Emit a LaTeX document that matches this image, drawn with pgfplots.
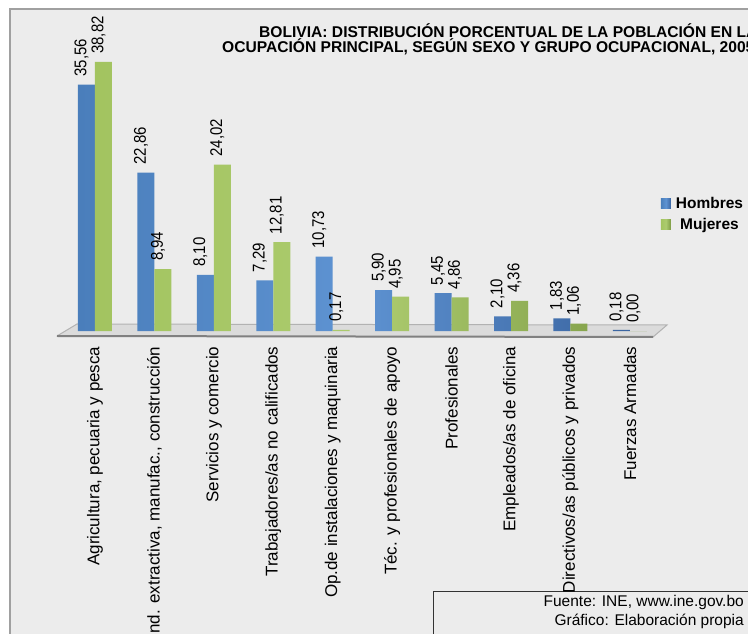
\documentclass[border=0pt]{standalone}
\usepackage{fontspec}
\setmainfont{Liberation Sans}
\newfontfamily\narrowfont[FakeStretch=0.88]{Liberation Sans}
\usepackage{pgfplots}
\pgfplotsset{compat=1.18}
\definecolor{bg}{HTML}{ECECEC}
\definecolor{frame}{HTML}{A0A0A0}
\definecolor{bluel}{HTML}{4A7EBB}
\definecolor{bluem}{HTML}{5E93D2}
\definecolor{bluer}{HTML}{3A64A0}
\definecolor{greenl}{HTML}{A3C460}
\definecolor{greenm}{HTML}{ACCB6E}
\definecolor{greenr}{HTML}{7D9B45}
\begin{document}
\begin{tikzpicture}
\useasboundingbox (0pt,0pt) rectangle (748pt,633pt);
\clip (0pt,0pt) rectangle (748pt,633pt);
\fill[white] (0pt,0pt) rectangle (748pt,633pt);
\filldraw[fill=bg, draw=frame, line width=2pt] (10pt,-20pt) rectangle (780pt,624pt);
% title
\node[anchor=base west, inner sep=0pt, font=\fontsize{15.6}{16}\selectfont\bfseries] at (259pt,595pt) {BOLIVIA: DISTRIBUCIÓN PORCENTUAL DE LA POBLACIÓN EN LA};
\node[anchor=base west, inner sep=0pt, font=\fontsize{15.6}{16}\selectfont\bfseries] at (222pt,580pt) {OCUPACIÓN PRINCIPAL, SEGÚN SEXO Y GRUPO OCUPACIONAL, 2005};
% floor
\fill[black!14] (57pt,297pt) -- (77pt,309pt) -- (667pt,308pt) -- (653pt,296pt) -- cycle;
\draw[black!30, line width=1pt] (57pt,297pt) -- (77pt,309pt) -- (667pt,308pt) -- (653pt,296pt);
\draw[black!50, line width=2pt] (57pt,297pt) -- (653pt,296pt);
% source box
\draw[black!80, line width=0.8pt, fill=bg] (433pt,42pt) rectangle (790pt,-10pt);
\node[anchor=base east, inner sep=0pt, font=\fontsize{15.5}{16}\selectfont] at (744pt,27pt) {Fuente: INE, www.ine.gov.bo};
\node[anchor=base east, inner sep=0pt, font=\fontsize{15.5}{16}\selectfont] at (744pt,8pt) {Gráfico: Elaboración propia};
\begin{axis}[
  at={(50.4pt,302pt)}, anchor=south west,
  scale only axis, width=615.2pt, height=277.2pt,
  xmin=-0.75, xmax=9.6, ymin=0, ymax=40,
  clip=false,
  ybar=0pt, bar width=17pt,
  axis line style={draw=none},
  major tick length=0pt,
  ytick=\empty,
  xtick={0,...,9},
  xticklabels={{Agricultura, pecuaria y pesca}, {Ind. extractiva, manufac., construcción}, Servicios y comercio, Trabajadores/as no calificados, Op.de instalaciones y maquinaria, Téc. y profesionales de apoyo, Profesionales, Empleados/as de oficina, Directivos/as públicos y privados, Fuerzas Armadas},
  xticklabel shift=12pt,
  xticklabel style={rotate=90, anchor=east, font=\fontsize{17}{18}\selectfont},
  nodes near coords={\pgfmathprintnumber[fixed,fixed zerofill,precision=2,use comma,assume math mode=true]{\pgfplotspointmeta}},
  every node near coord/.append style={xshift=-5pt, yshift=7pt, rotate=90, anchor=west, inner sep=1pt, font=\fontsize{17}{18}\narrowfont, text=black},
  legend style={at={(0.992,0.49)}, anchor=north west, draw=none, fill=none, inner sep=0pt, row sep=4pt, font=\fontsize{15.5}{17}\selectfont\bfseries, nodes={inner sep=2pt}},
  legend image code/.code={\fill[#1] (0pt,-5pt) rectangle (10pt,5pt);},
]
\addplot[draw=none, left color=bluel, right color=bluer, middle color=bluem] coordinates {(0,35.56) (1,22.86) (2,8.10) (3,7.29) (4,10.73) (5,5.90) (6,5.45) (7,2.10) (8,1.83) (9,0.18)};
\addplot[draw=none, left color=greenl, right color=greenr, middle color=greenm] coordinates {(0,38.82) (1,8.94) (2,24.02) (3,12.81) (4,0.17) (5,4.95) (6,4.86) (7,4.36) (8,1.06) (9,0.00)};
\legend{\hspace{3pt}Hombres, \hspace{3pt}Mujeres}
\end{axis}
\end{tikzpicture}
\end{document}
